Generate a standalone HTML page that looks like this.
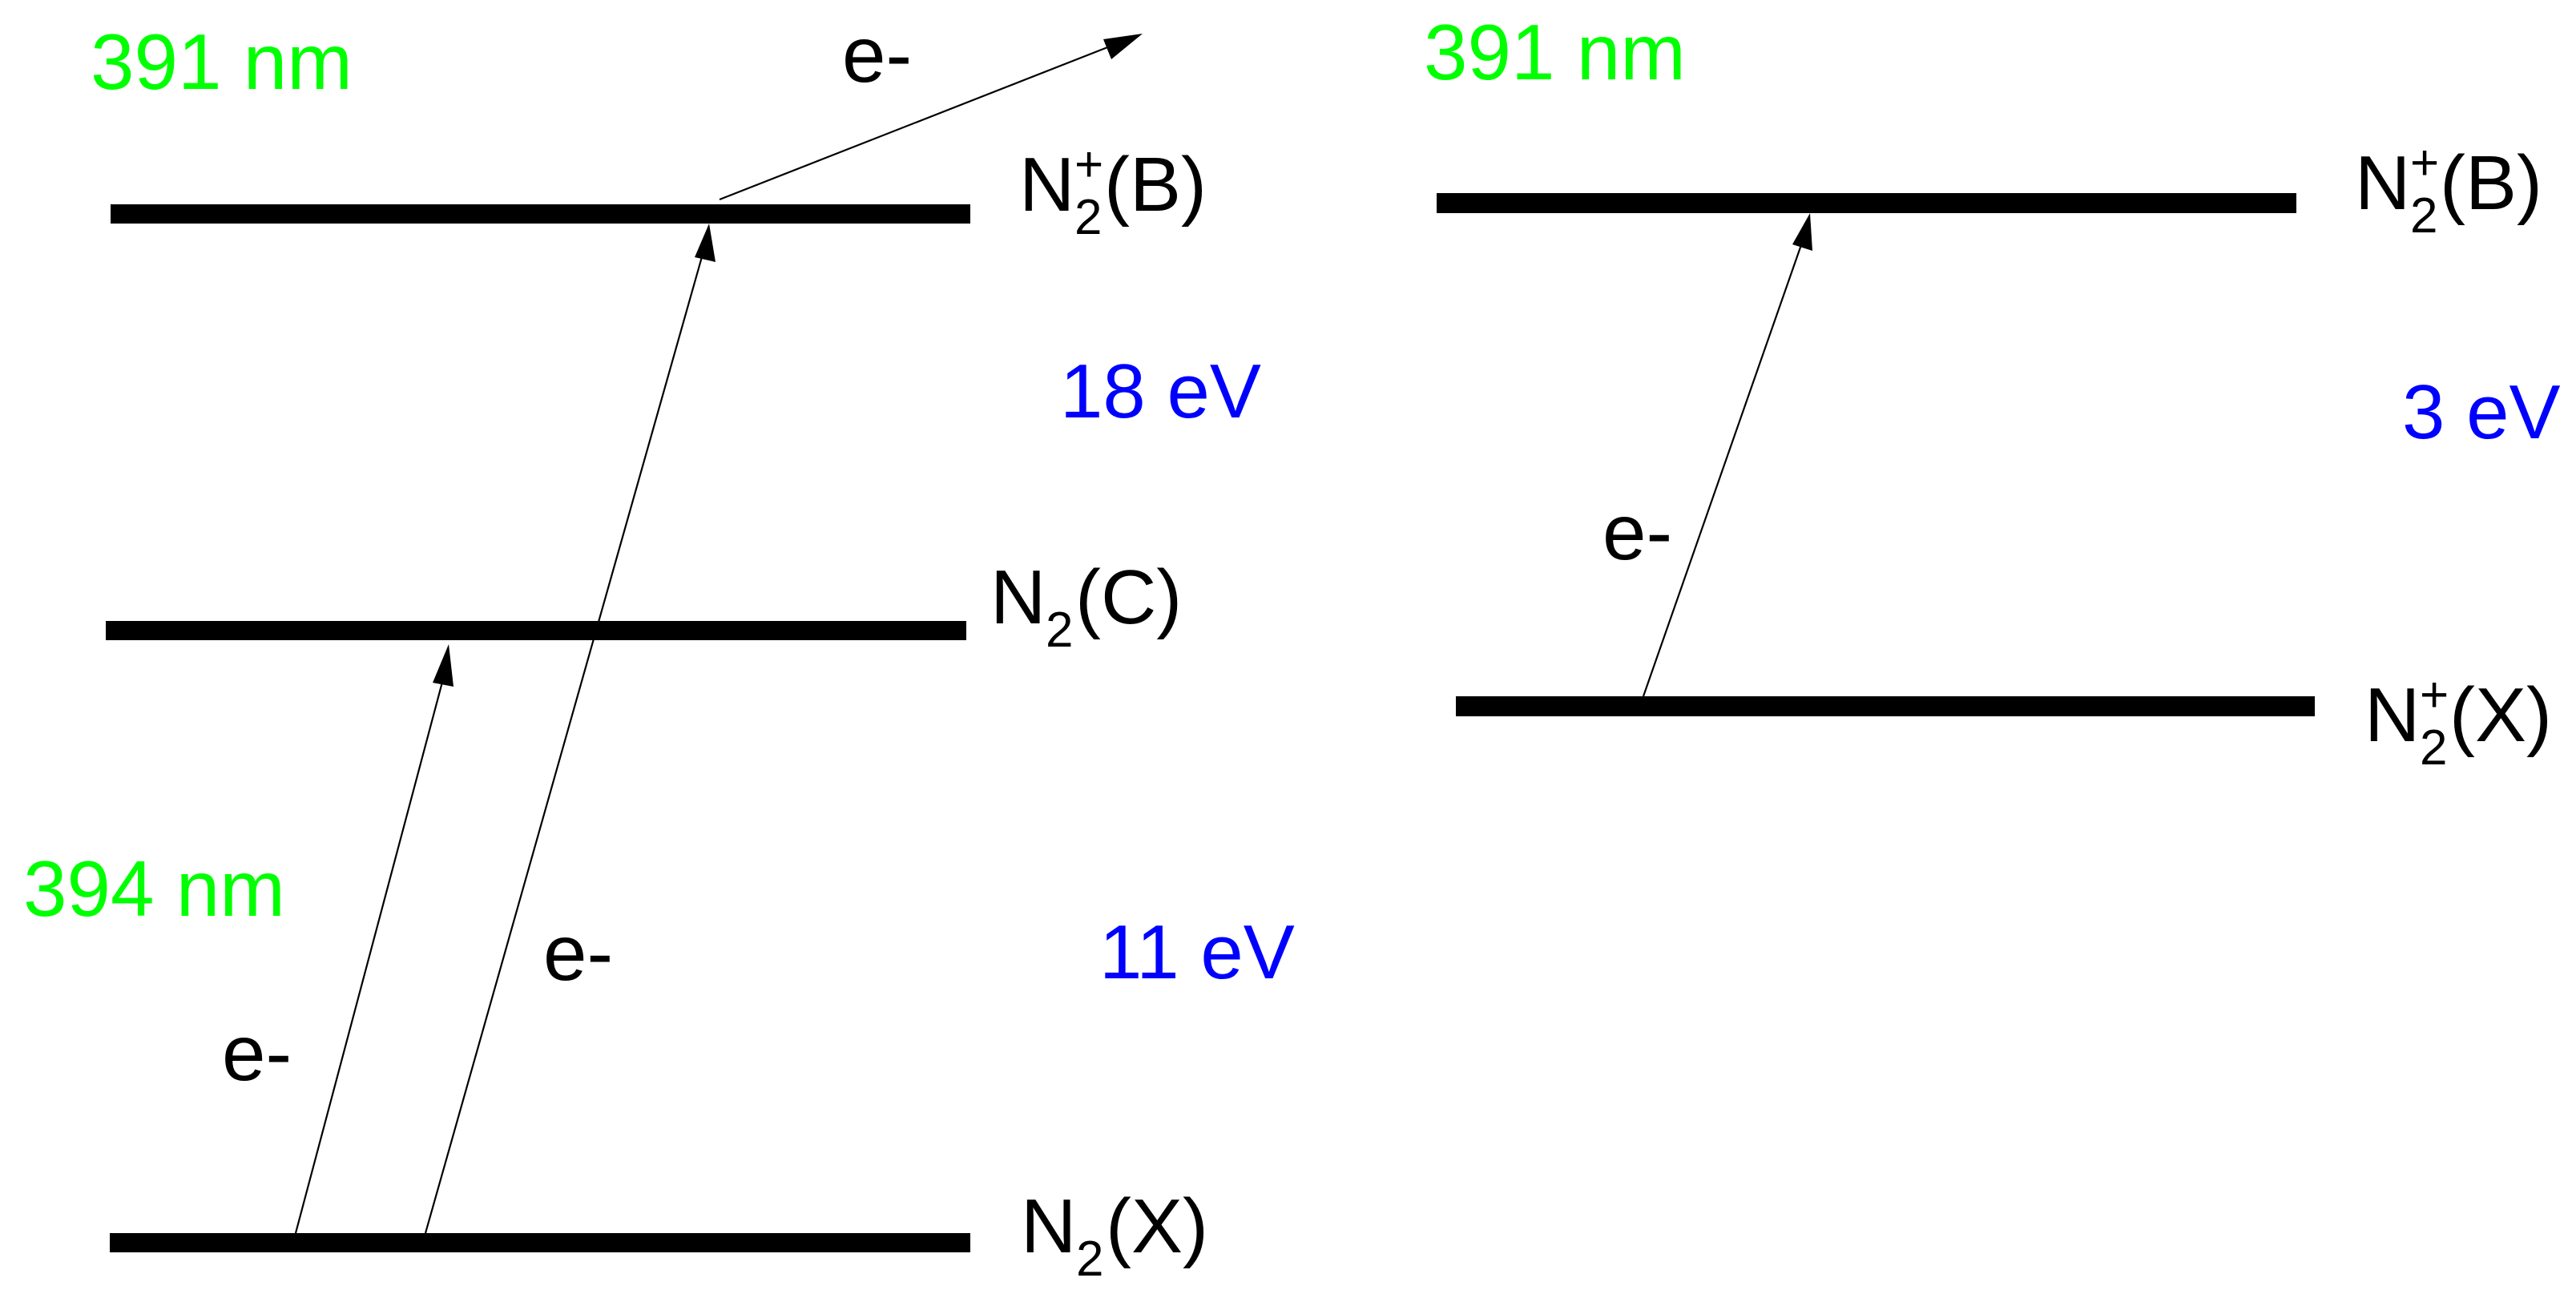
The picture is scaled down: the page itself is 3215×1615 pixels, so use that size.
<!DOCTYPE html>
<html><head><meta charset="utf-8"><style>
html,body{margin:0;padding:0;background:#fff;}
svg{display:block;}
text{font-family:"Liberation Sans",Arial,sans-serif;}
</style></head><body>
<svg width="3215" height="1615" viewBox="0 0 3215 1615" xmlns="http://www.w3.org/2000/svg">
<rect width="3215" height="1615" fill="#fff"/>
<!-- bars -->
<rect x="138" y="255" width="1073" height="24" fill="#000"/>
<rect x="132" y="775" width="1074" height="24" fill="#000"/>
<rect x="137" y="1539" width="1074" height="24" fill="#000"/>
<rect x="1793" y="241" width="1073" height="25" fill="#000"/>
<rect x="1817" y="869" width="1072" height="25" fill="#000"/>
<!-- arrows -->
<g stroke="#000" stroke-width="2.2" fill="none">
<line x1="369" y1="1539" x2="555" y2="840"/>
<line x1="531" y1="1539" x2="879" y2="310"/>
<line x1="898" y1="249" x2="1390" y2="56"/>
<line x1="2051" y1="869" x2="2250" y2="300"/>
</g>
<g fill="#000">
<polygon points="560,804 566,857 540,852"/>
<polygon points="885,279 893,327 867,321"/>
<polygon points="1426,42 1387,74 1377,49"/>
<polygon points="2259,266 2262,313 2237,305"/>
</g>
<!-- green labels -->
<g fill="#00ff00" font-size="98">
<text x="113" y="111">391 nm</text>
<text x="1777" y="99">391 nm</text>
<text x="29" y="1143">394 nm</text>
</g>
<!-- blue labels -->
<g fill="#0000ff" font-size="96">
<text x="1323" y="521">18 eV</text>
<text x="1372" y="1221">11 eV</text>
<text x="2998" y="547">3 eV</text>
</g>
<!-- e- labels -->
<g fill="#000" font-size="98">
<text x="1051" y="102">e-</text>
<text x="277" y="1348">e-</text>
<text x="678" y="1223">e-</text>
<text x="2000" y="698">e-</text>
</g>
<!-- state labels -->
<g fill="#000">
<!-- left N2+(B) -->
<text x="1272" y="263" font-size="96">N</text>
<text x="1341" y="292" font-size="62">2</text>
<text x="1341" y="226" font-size="62">+</text>
<text x="1378" y="263" font-size="96">(B)</text>
<!-- N2(C) -->
<text x="1236" y="778" font-size="96">N</text>
<text x="1305" y="807" font-size="62">2</text>
<text x="1342" y="778" font-size="96">(C)</text>
<!-- N2(X) -->
<text x="1274" y="1563" font-size="96">N</text>
<text x="1343" y="1592" font-size="62">2</text>
<text x="1380" y="1563" font-size="96">(X)</text>
<!-- right N2+(B) -->
<text x="2939" y="261" font-size="96">N</text>
<text x="3008" y="290" font-size="62">2</text>
<text x="3008" y="224" font-size="62">+</text>
<text x="3045" y="261" font-size="96">(B)</text>
<!-- right N2+(X) -->
<text x="2951" y="925" font-size="96">N</text>
<text x="3020" y="954" font-size="62">2</text>
<text x="3020" y="888" font-size="62">+</text>
<text x="3057" y="925" font-size="96">(X)</text>
</g>
</svg>
</body></html>
